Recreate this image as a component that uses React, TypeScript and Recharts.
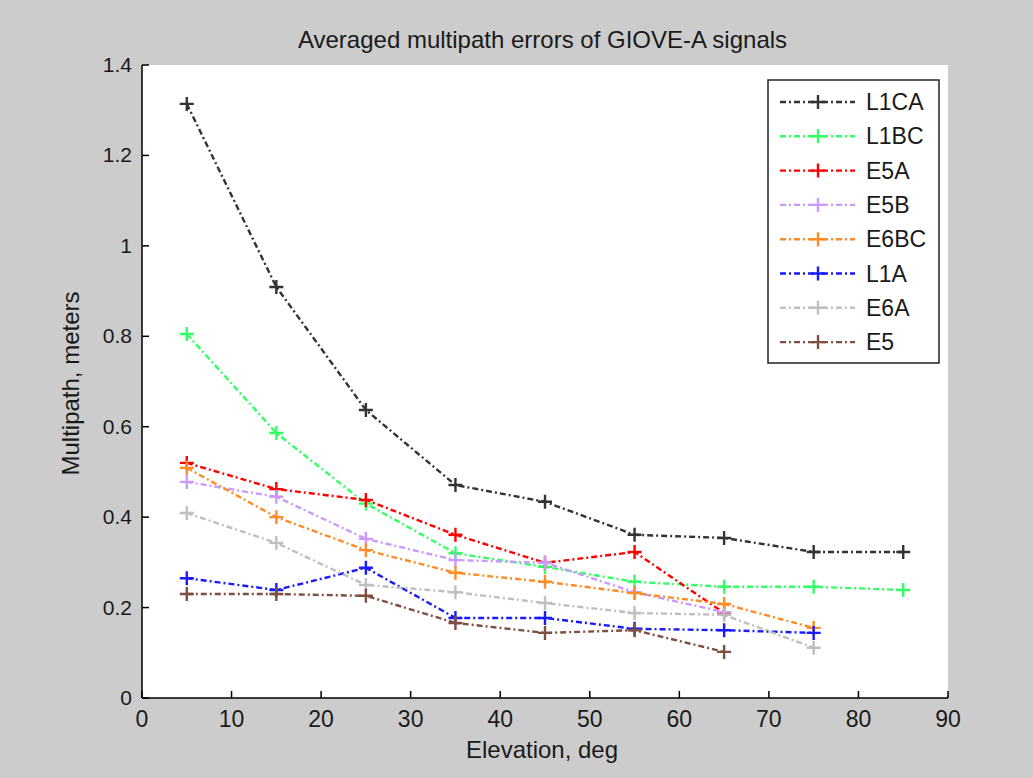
import * as React from 'react';
import { LineChart, Line, XAxis, YAxis, CartesianGrid, Legend } from 'recharts';

const elevations = [5, 15, 25, 35, 45, 55, 65, 75, 85];

const l1ca = [1.314, 0.909, 0.637, 0.471, 0.434, 0.361, 0.354, 0.323, 0.323];
const l1bc = [0.805, 0.586, 0.43, 0.32, 0.29, 0.257, 0.246, 0.246, 0.239];
const e5a = [0.52, 0.462, 0.438, 0.361, 0.299, 0.323, 0.188];
const e5b = [0.478, 0.445, 0.352, 0.305, 0.299, 0.234, 0.19];
const e6bc = [0.509, 0.4, 0.327, 0.277, 0.257, 0.232, 0.208, 0.155];
const l1a = [0.265, 0.239, 0.288, 0.177, 0.177, 0.153, 0.15, 0.144];
const e6a = [0.409, 0.343, 0.25, 0.234, 0.21, 0.188, 0.184, 0.111];
const e5 = [0.23, 0.23, 0.226, 0.166, 0.144, 0.15, 0.102];

const xTicks = [0, 10, 20, 30, 40, 50, 60, 70, 80, 90];
const yTicks = [0, 0.2, 0.4, 0.6, 0.8, 1, 1.2, 1.4];

const toPoints = (vals: number[]) => vals.map((y, i) => ({ x: elevations[i], y }));

const series = [
  { name: 'L1CA', color: '#333333', values: l1ca },
  { name: 'L1BC', color: '#33ff66', values: l1bc },
  { name: 'E5A', color: '#ff0000', values: e5a },
  { name: 'E5B', color: '#cc99ff', values: e5b },
  { name: 'E6BC', color: '#ff8c26', values: e6bc },
  { name: 'L1A', color: '#1a1aff', values: l1a },
  { name: 'E6A', color: '#bfbfbf', values: e6a },
  { name: 'E5', color: '#7f4f3f', values: e5 },
];

const FONT = '"Liberation Sans", Arial, sans-serif';
const TEXT = '#1a1a1a';
const DASH = '6 3 2 3';
const X_MARGIN = 20;
const Y_MARGIN = 10;

const plusDot = (props: any) => {
  const { cx, cy, stroke, index } = props;
  if (cx == null || cy == null) return <g key={`d${index}`} />;
  return (
    <path
      key={`d${index}`}
      d={`M${cx - 7},${cy}h14M${cx},${cy - 7}v14`}
      stroke={stroke}
      strokeWidth={2.4}
      fill="none"
    />
  );
};

// ticks point into the plot, MATLAB style
const XTick = (props: any) => {
  const { x, y, payload } = props;
  const axisY = y - X_MARGIN;
  return (
    <g>
      <line x1={x} x2={x} y1={axisY} y2={axisY - 7} stroke="#000" strokeWidth={1.5} />
      <text x={x} y={axisY + 29} textAnchor="middle" fontSize={23} fontFamily={FONT} fill={TEXT}>
        {payload.value}
      </text>
    </g>
  );
};

const YTick = (props: any) => {
  const { x, y, payload } = props;
  const axisX = x + Y_MARGIN;
  return (
    <g>
      <line x1={axisX} x2={axisX + 7} y1={y} y2={y} stroke="#000" strokeWidth={1.5} />
      <text x={axisX - 10} y={y + 7} textAnchor="end" fontSize={21} fontFamily={FONT} fill={TEXT}>
        {payload.value}
      </text>
    </g>
  );
};

const renderLegend = () => (
  <svg width={173} height={285}>
    <rect x={1} y={1} width={171} height={283} fill="#ffffff" stroke="#222" strokeWidth={1.5} />
    {series.map((s, i) => {
      const cy = 23 + i * 34.3;
      return (
        <g key={s.name}>
          <line x1={13} x2={88} y1={cy} y2={cy} stroke={s.color} strokeWidth={2.4} strokeDasharray={DASH} />
          <path d={`M${44},${cy}h14M${51},${cy - 7}v14`} stroke={s.color} strokeWidth={2.4} />
          <text x={99} y={cy + 8} fontSize={23} fontFamily={FONT} fill={TEXT}>
            {s.name}
          </text>
        </g>
      );
    })}
  </svg>
);

const App: React.FC = () => {
  return (
    <div style={{ position: 'absolute', left: 0, top: 0, width: 1033, height: 778, background: '#cccccc', fontFamily: FONT }}>
      <div
        style={{
          position: 'absolute',
          top: 26,
          left: 0,
          width: 1085,
          textAlign: 'center',
          fontSize: 24,
          color: TEXT,
          lineHeight: 'normal',
        }}
      >
        Averaged multipath errors of GIOVE-A signals
      </div>
      <LineChart width={1033} height={778} margin={{ top: 65, right: 85, bottom: 0, left: 0 }}>
        <CartesianGrid horizontal={false} vertical={false} fill="#ffffff" />
        <XAxis
          type="number"
          dataKey="x"
          domain={[0, 90]}
          ticks={xTicks}
          allowDataOverflow
          height={80}
          tickSize={0}
          tickMargin={X_MARGIN}
          axisLine={{ stroke: '#000', strokeWidth: 1.5 }}
          tickLine={false}
          tick={<XTick />}
          label={{
            content: (p: any) => {
              const vb = p.viewBox;
              return (
                <text x={vb.x + vb.width / 2 - 3} y={758} textAnchor="middle" fontSize={24} fontFamily={FONT} fill={TEXT}>
                  Elevation, deg
                </text>
              );
            },
          }}
        />
        <YAxis
          type="number"
          domain={[0, 1.4]}
          ticks={yTicks}
          width={142}
          tickSize={0}
          tickMargin={Y_MARGIN}
          axisLine={{ stroke: '#000', strokeWidth: 1.5 }}
          tickLine={false}
          tick={<YTick />}
          label={{
            content: (p: any) => {
              const vb = p.viewBox;
              const cx = vb.x + 79;
              const cy = vb.y + vb.height / 2 + 2;
              return (
                <text x={cx} y={cy} transform={`rotate(-90 ${cx} ${cy})`} textAnchor="middle" fontSize={24} fontFamily={FONT} fill={TEXT}>
                  Multipath, meters
                </text>
              );
            },
          }}
        />
        <Legend
          layout="vertical"
          align="center"
          verticalAlign="middle"
          content={renderLegend}
          wrapperStyle={{ position: 'absolute', left: 767, top: 79, width: 173, height: 285 }}
        />
        {series.map((s) => (
          <Line
            key={s.name}
            name={s.name}
            data={toPoints(s.values)}
            dataKey="y"
            type="linear"
            stroke={s.color}
            strokeWidth={2.4}
            strokeDasharray={DASH}
            dot={plusDot}
            activeDot={false}
            isAnimationActive={false}
          />
        ))}
      </LineChart>
    </div>
  );
};

export default App;
